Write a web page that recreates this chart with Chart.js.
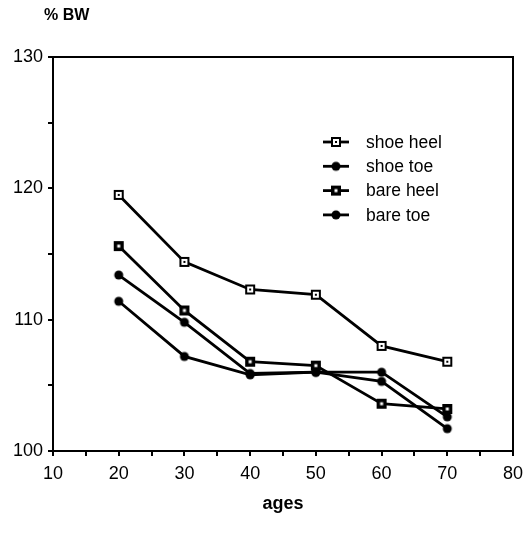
<!DOCTYPE html>
<html>
<head>
<meta charset="utf-8">
<script src="https://cdn.jsdelivr.net/npm/chart.js@4.4.1/dist/chart.umd.min.js"></script>
<style>
  html, body { margin: 0; padding: 0; background: #fff; }
</style>
</head>
<body>
<canvas id="myChart" width="525" height="538"></canvas>
<script>
// values
const ages = [20, 30, 40, 50, 60, 70];
const shoeHeel = [119.5, 114.4, 112.3, 111.9, 108.0, 106.8];
const shoeToe  = [113.4, 109.8, 105.9, 106.0, 106.0, 102.6];
const bareHeel = [115.6, 110.7, 106.8, 106.5, 103.6, 103.2];
const bareToe  = [111.4, 107.2, 105.8, 106.0, 105.3, 101.7];
const seriesNames = ['shoe heel', 'shoe toe', 'bare heel', 'bare toe'];
const xLabels = [10, 20, 30, 40, 50, 60, 70, 80];
const yLabels = [100, 110, 120, 130];

const FONT = "'Liberation Sans', Arial, sans-serif";

// little marker images: open square, filled square, dot
function marker(kind) {
    const c = document.createElement('canvas');
    c.width = 12; c.height = 12;
    const g = c.getContext('2d');
    g.fillStyle = '#000';
    if (kind === 'open') {
        g.fillRect(1, 1, 10, 10);
        g.fillStyle = '#fff';
        g.fillRect(3, 3, 6, 6);
        g.fillStyle = '#000';
        g.fillRect(5, 5, 2, 2);
    } else if (kind === 'square') {
        g.fillRect(1, 1, 10, 10);
        g.fillStyle = '#fff';
        g.fillRect(4.5, 4.5, 3, 3);
    } else {
        g.beginPath();
        g.arc(6, 6, 4.5, 0, Math.PI * 2);
        g.fill();
    }
    return c;
}
const markers = [marker('open'), marker('dot'), marker('square'), marker('dot')];
const seriesValues = [shoeHeel, shoeToe, bareHeel, bareToe];

const toPoints = vals => vals.map((v, i) => ({x: ages[i], y: v}));

// frame on top/right, title and the inline legend
const extras = {
    id: 'extras',
    afterDraw(chart) {
        const ctx = chart.ctx;
        const a = chart.chartArea;
        ctx.save();
        ctx.strokeStyle = '#000';
        ctx.lineWidth = 2;
        ctx.beginPath();
        ctx.moveTo(a.left, a.top);
        ctx.lineTo(a.right, a.top);
        ctx.lineTo(a.right, a.bottom);
        ctx.stroke();

        ctx.fillStyle = '#000';
        ctx.font = 'bold 16px ' + FONT;
        ctx.textBaseline = 'middle';
        ctx.fillText('% BW', 44, 16);

        // legend
        ctx.font = '17.5px ' + FONT;
        chart.data.datasets.forEach((ds, i) => {
            const y = 142 + i * 24.3;
            ctx.lineWidth = 2.8;
            ctx.beginPath();
            ctx.moveTo(323, y);
            ctx.lineTo(349, y);
            ctx.stroke();
            const m = ds.pointStyle;
            ctx.drawImage(m, 336 - m.width / 2, y - m.height / 2);
            ctx.fillText(ds.label, 366, y + 1);
        });
        ctx.restore();
    }
};

const ctx = document.getElementById('myChart').getContext('2d');
const chart = new Chart(ctx, {
    type: 'line',
    data: {
        datasets: seriesNames.map((name, i) => ({
            label: name,
            data: toPoints(seriesValues[i]),
            borderColor: '#000',
            borderWidth: 2.8,
            pointStyle: markers[i],
            pointRadius: 5,
            tension: 0
        }))
    },
    options: {
        responsive: false,
        animation: false,
        layout: { padding: { top: 57, right: 12, left: 0, bottom: 0 } },
        plugins: {
            legend: { display: false },
            tooltip: { enabled: false }
        },
        scales: {
            x: {
                type: 'linear',
                min: 10,
                max: 80,
                afterFit: s => { s.height = 87; s.paddingLeft = 0; s.paddingRight = 0; },
                ticks: {
                    stepSize: 5,
                    autoSkip: false,
                    maxRotation: 0,
                    padding: 7,
                    color: '#000',
                    font: { family: FONT, size: 18 },
                    callback: v => xLabels.includes(v) ? v : ''
                },
                grid: { drawOnChartArea: false, drawTicks: true, tickLength: 5, color: '#000', lineWidth: 2 },
                border: { display: true, color: '#000', width: 2 },
                title: {
                    display: true,
                    text: 'ages',
                    color: '#000',
                    font: { family: FONT, size: 18, weight: 'bold' },
                    padding: { top: 0, bottom: 23 }
                }
            },
            y: {
                min: 100,
                max: 130,
                afterFit: s => { s.width = 53; },
                ticks: {
                    stepSize: 5,
                    autoSkip: false,
                    padding: 5,
                    color: '#000',
                    font: { family: FONT, size: 18 },
                    callback: v => yLabels.includes(v) ? v : ''
                },
                grid: { drawOnChartArea: false, drawTicks: true, tickLength: 5, color: '#000', lineWidth: 2 },
                border: { display: true, color: '#000', width: 2 }
            }
        }
    },
    plugins: [extras]
});
</script>
</body>
</html>
